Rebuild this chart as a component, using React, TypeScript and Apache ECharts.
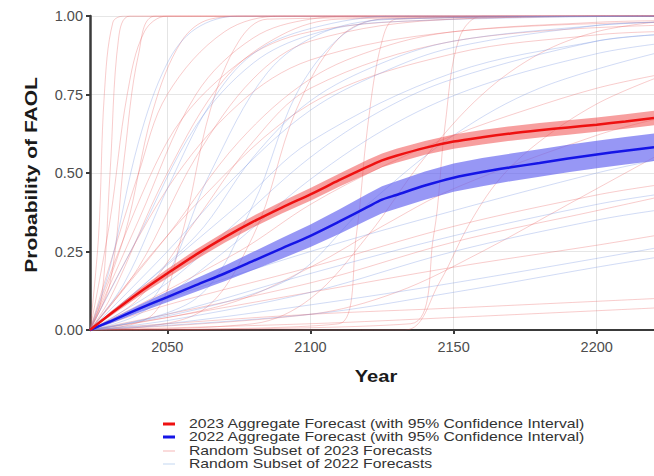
import React, { useEffect, useRef } from "react";
import * as echarts from "echarts";

const X_TICKS = [2050, 2100, 2150, 2200];
const X_MIN = 2023;
const X_MAX = 2220;

const AGG_YEARS = [2023, 2030, 2040, 2050, 2060, 2070, 2080, 2090, 2100, 2110, 2120, 2125, 2130, 2140, 2150, 2160, 2170, 2180, 2190, 2200, 2210, 2220];
const AGG23_MEAN = [0, 0.05, 0.118, 0.18, 0.24, 0.295, 0.345, 0.39, 0.432, 0.477, 0.52, 0.54, 0.555, 0.58, 0.6, 0.614, 0.626, 0.636, 0.645, 0.654, 0.664, 0.675];
const AGG23_LO = [0, 0.043, 0.107, 0.166, 0.224, 0.278, 0.327, 0.371, 0.412, 0.456, 0.498, 0.518, 0.533, 0.558, 0.577, 0.591, 0.603, 0.613, 0.622, 0.631, 0.641, 0.652];
const AGG23_HI = [0, 0.057, 0.129, 0.194, 0.256, 0.312, 0.363, 0.409, 0.452, 0.498, 0.542, 0.562, 0.577, 0.602, 0.623, 0.637, 0.649, 0.659, 0.668, 0.677, 0.687, 0.698];
const AGG22_MEAN = [0, 0.027, 0.067, 0.105, 0.143, 0.18, 0.22, 0.26, 0.3, 0.345, 0.392, 0.415, 0.43, 0.46, 0.485, 0.503, 0.518, 0.532, 0.546, 0.559, 0.571, 0.582];
const AGG22_LO = [0, 0.021, 0.055, 0.088, 0.122, 0.155, 0.191, 0.227, 0.264, 0.306, 0.35, 0.372, 0.386, 0.415, 0.44, 0.458, 0.474, 0.488, 0.502, 0.515, 0.527, 0.538];
const AGG22_HI = [0, 0.033, 0.079, 0.122, 0.164, 0.205, 0.249, 0.293, 0.336, 0.384, 0.434, 0.458, 0.474, 0.505, 0.53, 0.548, 0.562, 0.576, 0.59, 0.603, 0.615, 0.626];

// Random subset of individual 2023 forecasts: [year, probability]
const RAND_2023: number[][][] = [
  [[2023, 0], [2027, 0.1], [2030, 0.5], [2033, 0.93], [2037, 1], [2220, 1]],
  [[2023, 0], [2030, 0.15], [2035, 0.55], [2040, 0.88], [2046, 1], [2220, 1]],
  [[2023, 0], [2035, 0.3], [2045, 0.7], [2055, 0.92], [2065, 0.99], [2080, 1], [2220, 1]],
  [[2023, 0], [2040, 0.35], [2060, 0.75], [2080, 0.93], [2100, 0.99], [2120, 1], [2220, 1]],
  [[2023, 0], [2030, 0.1], [2050, 0.5], [2070, 0.8], [2090, 0.94], [2110, 0.99], [2220, 1]],
  [[2023, 0], [2050, 0.3], [2075, 0.6], [2100, 0.8], [2125, 0.9], [2150, 0.95], [2200, 0.98], [2220, 0.985]],
  [[2023, 0], [2050, 0.45], [2075, 0.72], [2100, 0.86], [2150, 0.95], [2220, 0.98]],
  [[2023, 0], [2040, 0.1], [2060, 0.35], [2080, 0.6], [2100, 0.77], [2150, 0.92], [2220, 0.97]],
  [[2023, 0], [2075, 0.25], [2100, 0.4], [2125, 0.52], [2150, 0.62], [2175, 0.7], [2200, 0.77], [2220, 0.81]],
  [[2023, 0], [2060, 0.05], [2080, 0.3], [2095, 0.7], [2110, 0.93], [2125, 0.99], [2220, 1]],
  [[2023, 0], [2110, 0.02], [2116, 0.3], [2120, 0.65], [2125, 0.92], [2130, 0.99], [2220, 1]],
  [[2023, 0], [2135, 0.02], [2143, 0.3], [2147, 0.65], [2152, 0.93], [2160, 1], [2220, 1]],
  [[2023, 0], [2133, 0], [2145, 0.15], [2155, 0.33], [2166, 0.48], [2180, 0.6], [2200, 0.72], [2220, 0.8]],
  [[2023, 0], [2050, 0.02], [2100, 0.05], [2150, 0.07], [2220, 0.1]],
  [[2023, 0], [2050, 0.04], [2100, 0.12], [2150, 0.2], [2200, 0.27], [2220, 0.3]],
  [[2023, 0], [2050, 0.08], [2100, 0.2], [2150, 0.33], [2200, 0.43], [2220, 0.46]],
  [[2023, 0], [2100, 0.05], [2130, 0.12], [2160, 0.25], [2190, 0.4], [2220, 0.55]],
  [[2023, 0], [2040, 0.5], [2050, 0.75], [2070, 0.95], [2090, 1], [2220, 1]],
  [[2023, 0], [2026, 0.3], [2028, 0.75], [2031, 0.98], [2035, 1], [2220, 1]],
  [[2023, 0], [2060, 0.4], [2100, 0.72], [2150, 0.88], [2200, 0.94], [2220, 0.95]],
  [[2023, 0], [2080, 0.02], [2100, 0.1], [2120, 0.3], [2140, 0.55], [2160, 0.75], [2180, 0.88], [2200, 0.95], [2220, 0.98]],
  [[2023, 0], [2050, 0.6], [2075, 0.85], [2100, 0.95], [2150, 0.99], [2220, 1]],
  [[2023, 0], [2100, 0.02], [2150, 0.04], [2220, 0.07]],
  [[2023, 0], [2040, 0.2], [2060, 0.55], [2080, 0.8], [2100, 0.92], [2150, 0.99], [2220, 1]],
  [[2023, 0], [2070, 0.08], [2100, 0.2], [2125, 0.33], [2150, 0.45], [2200, 0.62], [2220, 0.67]],
  [[2023, 0], [2030, 0.35], [2036, 0.75], [2042, 0.95], [2050, 1], [2220, 1]],
  [[2023, 0], [2045, 0.05], [2055, 0.3], [2065, 0.7], [2075, 0.92], [2085, 0.99], [2220, 1]],
  [[2023, 0], [2100, 0.15], [2150, 0.28], [2200, 0.38], [2220, 0.42]],
];

// Random subset of individual 2022 forecasts: [year, probability]
const RAND_2022: number[][][] = [
  [[2023, 0], [2040, 0.3], [2060, 0.65], [2080, 0.85], [2100, 0.94], [2125, 0.98], [2220, 1]],
  [[2023, 0], [2050, 0.25], [2075, 0.5], [2100, 0.7], [2125, 0.82], [2150, 0.9], [2200, 0.97], [2220, 0.98]],
  [[2023, 0], [2050, 0.15], [2075, 0.35], [2100, 0.55], [2125, 0.7], [2150, 0.8], [2200, 0.92], [2220, 0.94]],
  [[2023, 0], [2060, 0.1], [2080, 0.4], [2095, 0.75], [2110, 0.93], [2125, 0.99], [2220, 1]],
  [[2023, 0], [2050, 0.05], [2100, 0.18], [2150, 0.3], [2200, 0.4], [2220, 0.43]],
  [[2023, 0], [2050, 0.1], [2100, 0.25], [2150, 0.38], [2200, 0.5], [2220, 0.54]],
  [[2023, 0], [2030, 0.2], [2040, 0.6], [2050, 0.85], [2060, 0.96], [2075, 1], [2220, 1]],
  [[2023, 0], [2045, 0.1], [2065, 0.5], [2085, 0.82], [2105, 0.95], [2130, 0.99], [2220, 1]],
  [[2023, 0], [2100, 0.05], [2150, 0.12], [2200, 0.2], [2220, 0.23]],
  [[2023, 0], [2075, 0.4], [2100, 0.6], [2150, 0.82], [2200, 0.92], [2220, 0.94]],
  [[2023, 0], [2050, 0.02], [2100, 0.08], [2150, 0.15], [2220, 0.26]],
  [[2023, 0], [2060, 0.3], [2080, 0.55], [2100, 0.73], [2125, 0.85], [2150, 0.92], [2200, 0.97], [2220, 0.98]],
  [[2023, 0], [2035, 0.15], [2050, 0.45], [2065, 0.72], [2080, 0.88], [2100, 0.96], [2130, 1], [2220, 1]],
  [[2023, 0], [2090, 0.15], [2120, 0.4], [2150, 0.62], [2180, 0.77], [2220, 0.88]],
  [[2023, 0], [2050, 0.03], [2100, 0.12], [2150, 0.25], [2200, 0.35], [2220, 0.38]],
  [[2023, 0], [2040, 0.05], [2070, 0.25], [2100, 0.48], [2130, 0.66], [2160, 0.78], [2200, 0.88], [2220, 0.91]],
];

const LEGEND_LABELS = [
  "2023 Aggregate Forecast (with 95% Confidence Interval)",
  "2022 Aggregate Forecast (with 95% Confidence Interval)",
  "Random Subset of 2023 Forecasts",
  "Random Subset of 2022 Forecasts",
];

const FONT = "'Liberation Sans', Arial, Helvetica, sans-serif";
const RED = "#ee1111";
const BLUE = "#1515e6";
const RED_BAND = "rgba(240, 70, 70, 0.52)";
const BLUE_BAND = "rgba(95, 95, 240, 0.65)";
const PINK = "rgba(232, 96, 96, 0.32)";
const LIGHT_BLUE = "rgba(120, 150, 225, 0.34)";

function bandSeries(lo: number[], hi: number[], color: string) {
  const data = AGG_YEARS.map((y, i) => [y, lo[i], hi[i]]);
  return {
    type: "custom",
    silent: true,
    z: 3,
    clip: true,
    encode: { x: 0, y: [1, 2] },
    data,
    renderItem: (params: any, api: any) => {
      if (params.dataIndex !== 0) return { type: "group", children: [] };
      const pts: number[][] = [];
      for (let i = 0; i < data.length; i++) pts.push(api.coord([data[i][0], data[i][2]]));
      for (let i = data.length - 1; i >= 0; i--) pts.push(api.coord([data[i][0], data[i][1]]));
      return {
        type: "polygon",
        shape: { points: pts },
        style: { fill: color, stroke: "none" },
      };
    },
  };
}

export default function App() {
  const ref = useRef<HTMLDivElement>(null);
  useEffect(() => {
    if (!ref.current) return;
    const chart = echarts.init(ref.current, null, { renderer: "svg" });
    const series: any[] = [];
    RAND_2023.forEach((d) =>
      series.push({
        type: "line",
        data: d,
        smooth: 0.35,
        showSymbol: false,
        symbol: "none",
        silent: true,
        z: 2,
        lineStyle: { color: PINK, width: 1 },
      })
    );
    RAND_2022.forEach((d) =>
      series.push({
        type: "line",
        data: d,
        smooth: 0.35,
        showSymbol: false,
        symbol: "none",
        silent: true,
        z: 2,
        lineStyle: { color: LIGHT_BLUE, width: 1 },
      })
    );
    series.push(bandSeries(AGG22_LO, AGG22_HI, BLUE_BAND));
    series.push(bandSeries(AGG23_LO, AGG23_HI, RED_BAND));
    series.push({
      type: "line",
      data: AGG_YEARS.map((y, i) => [y, AGG22_MEAN[i]]),
      smooth: 0.3,
      symbol: "none",
      silent: true,
      z: 4,
      lineStyle: { color: BLUE, width: 2.5 },
    });
    series.push({
      type: "line",
      data: AGG_YEARS.map((y, i) => [y, AGG23_MEAN[i]]),
      smooth: 0.3,
      symbol: "none",
      silent: true,
      z: 4,
      lineStyle: { color: RED, width: 2.5 },
    });

    const legendRows = [424, 437, 451, 464];
    const legendSymbols = [
      { color: RED, width: 3 },
      { color: BLUE, width: 3 },
      { color: "rgba(232, 96, 96, 0.45)", width: 1 },
      { color: "rgba(120, 165, 225, 0.45)", width: 1 },
    ];
    const graphic: any[] = [];
    LEGEND_LABELS.forEach((label, i) => {
      graphic.push({
        type: "line",
        shape: { x1: 163, y1: legendRows[i], x2: 175, y2: legendRows[i] },
        style: { stroke: legendSymbols[i].color, lineWidth: legendSymbols[i].width },
        silent: true,
      });
      graphic.push({
        type: "text",
        x: 189,
        y: legendRows[i],
        scaleX: 1.26,
        style: {
          text: label,
          x: 0,
          y: 0,
          fill: "#333333",
          font: `12.5px ${FONT}`,
          align: "left",
          verticalAlign: "middle",
        },
        silent: true,
      });
    });
    graphic.push({
      type: "text",
      x: 31,
      y: 175,
      rotation: Math.PI / 2,
      scaleX: 1.27,
      style: {
        text: "Probability of FAOL",
        x: 0,
        y: 0,
        fill: "#1a1a1a",
        font: `bold 16.5px ${FONT}`,
        align: "center",
        verticalAlign: "middle",
      },
      silent: true,
    });
    graphic.push({
      type: "text",
      x: 376,
      y: 376,
      scaleX: 1.22,
      style: {
        text: "Year",
        x: 0,
        y: 0,
        fill: "#1a1a1a",
        font: `bold 16.5px ${FONT}`,
        align: "center",
        verticalAlign: "middle",
      },
      silent: true,
    });

    chart.setOption({
      animation: false,
      backgroundColor: "#ffffff",
      grid: { left: 90, top: 16, right: 0, bottom: 146, containLabel: false },
      xAxis: {
        type: "value",
        min: X_MIN,
        max: X_MAX,
        axisLine: { show: true, onZero: false, lineStyle: { color: "#3a3a3a", width: 2 } },
        axisTick: { show: true, customValues: X_TICKS, length: 4, lineStyle: { color: "#3a3a3a", width: 2 } },
        axisLabel: {
          customValues: X_TICKS,
          formatter: (v: number) => String(v),
          fontSize: 14.5,
          fontFamily: FONT,
          color: "#4d4d4d",
          margin: 9,
        },
        splitLine: { show: true, lineStyle: { color: "#e4e4e4", width: 1 } },
      },
      yAxis: {
        type: "value",
        min: 0,
        max: 1,
        interval: 0.25,
        axisLine: { show: true, lineStyle: { color: "#3a3a3a", width: 2.5 } },
        axisTick: { show: true, length: 4, lineStyle: { color: "#3a3a3a", width: 2 } },
        axisLabel: {
          formatter: (v: number) => v.toFixed(2),
          fontSize: 14.5,
          fontFamily: FONT,
          color: "#4d4d4d",
          margin: 7,
        },
        splitLine: { show: true, lineStyle: { color: "#e6e6e6", width: 1 } },
      },
      series,
      graphic,
    });
    return () => chart.dispose();
  }, []);
  return (
    <div
      ref={ref}
      style={{ position: "absolute", left: 0, top: 0, width: 654, height: 476 }}
    />
  );
}
